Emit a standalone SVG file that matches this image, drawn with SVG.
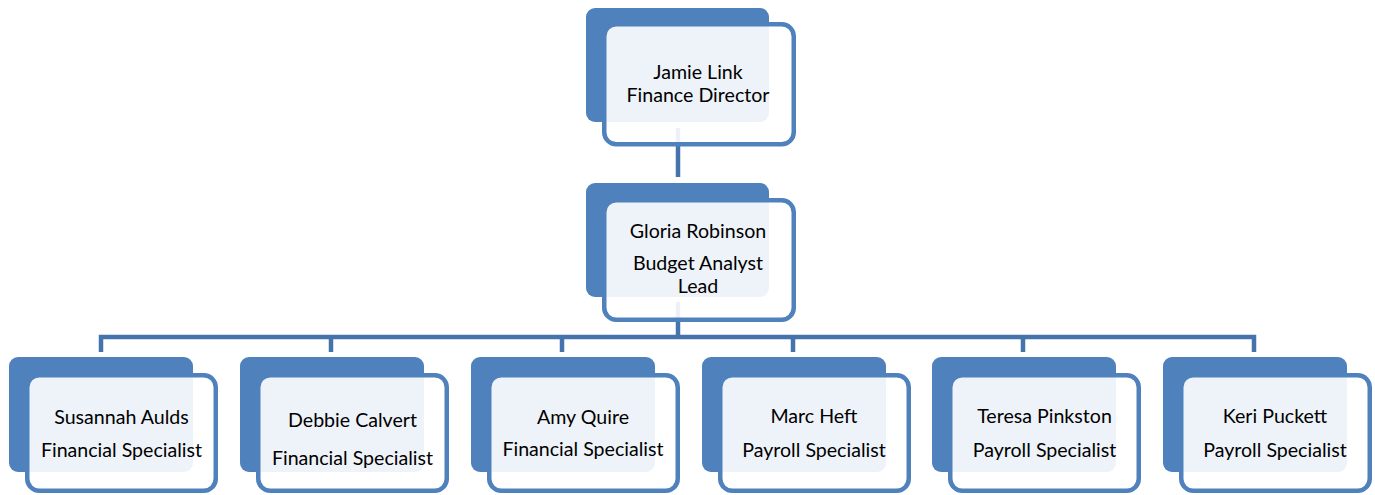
<svg xmlns="http://www.w3.org/2000/svg" width="1375" height="495" viewBox="0 0 1375 495">
<style>
.back{fill:#4F81BD}
.front{fill:#FFFFFF;fill-opacity:0.9;stroke:#4F81BD;stroke-width:4.5}
.conn{fill:none;stroke:#4573AC;stroke-width:4.5}
text{font-family:Lato,"Liberation Sans",sans-serif;font-size:19.6px;fill:#000;text-anchor:middle}
</style>
<rect width="1375" height="495" fill="#FFFFFF"/>
<g id="connectors">
<path class="conn" d="M678,128 V177" stroke-width="5"/>
<path class="conn" d="M678,302 V337"/>
<path class="conn" d="M101,352 V337 H1254 V352"/>
<path class="conn" d="M331,337 V352"/>
<path class="conn" d="M562,337 V352"/>
<path class="conn" d="M793,337 V352"/>
<path class="conn" d="M1023,337 V352"/>
</g>
<g id="node-jamie">
<rect class="back" x="586" y="8" width="183" height="114" rx="9"/>
<rect class="front" x="604.25" y="24.25" width="189.5" height="120" rx="12"/>
<text x="698" y="79">Jamie Link</text>
<text x="698" y="102">Finance Director</text>
</g>
<g id="node-gloria">
<rect class="back" x="586" y="183" width="183" height="114" rx="9"/>
<rect class="front" x="604.25" y="200.25" width="189.5" height="119.5" rx="12"/>
<text x="698" y="238">Gloria Robinson</text>
<text x="698" y="270">Budget Analyst</text>
<text x="698" y="293">Lead</text>
</g>
<g id="node-susannah">
<rect class="back" x="9" y="357" width="184" height="115" rx="9"/>
<rect class="front" x="27.25" y="375.25" width="188.5" height="115.5" rx="12"/>
<text x="121.5" y="424">Susannah Aulds</text>
<text x="121.5" y="457">Financial Specialist</text>
</g>
<g id="node-debbie">
<rect class="back" x="240" y="357" width="184" height="115" rx="9"/>
<rect class="front" x="258.25" y="375.25" width="188.5" height="115.5" rx="12"/>
<text x="352.5" y="427">Debbie Calvert</text>
<text x="352.5" y="465">Financial Specialist</text>
</g>
<g id="node-amy">
<rect class="back" x="471" y="357" width="184" height="115" rx="9"/>
<rect class="front" x="489.25" y="375.25" width="188.5" height="115.5" rx="12"/>
<text x="583" y="424">Amy Quire</text>
<text x="583" y="456">Financial Specialist</text>
</g>
<g id="node-marc">
<rect class="back" x="702" y="357" width="184" height="115" rx="9"/>
<rect class="front" x="720.25" y="375.25" width="188.5" height="115.5" rx="12"/>
<text x="814" y="423">Marc Heft</text>
<text x="814" y="457">Payroll Specialist</text>
</g>
<g id="node-teresa">
<rect class="back" x="932" y="357" width="184" height="115" rx="9"/>
<rect class="front" x="950.25" y="375.25" width="188.5" height="115.5" rx="12"/>
<text x="1044.5" y="423">Teresa Pinkston</text>
<text x="1044.5" y="457">Payroll Specialist</text>
</g>
<g id="node-keri">
<rect class="back" x="1163" y="357" width="184" height="115" rx="9"/>
<rect class="front" x="1181.25" y="375.25" width="188.5" height="115.5" rx="12"/>
<text x="1275" y="423">Keri Puckett</text>
<text x="1275" y="457">Payroll Specialist</text>
</g>
</svg>
